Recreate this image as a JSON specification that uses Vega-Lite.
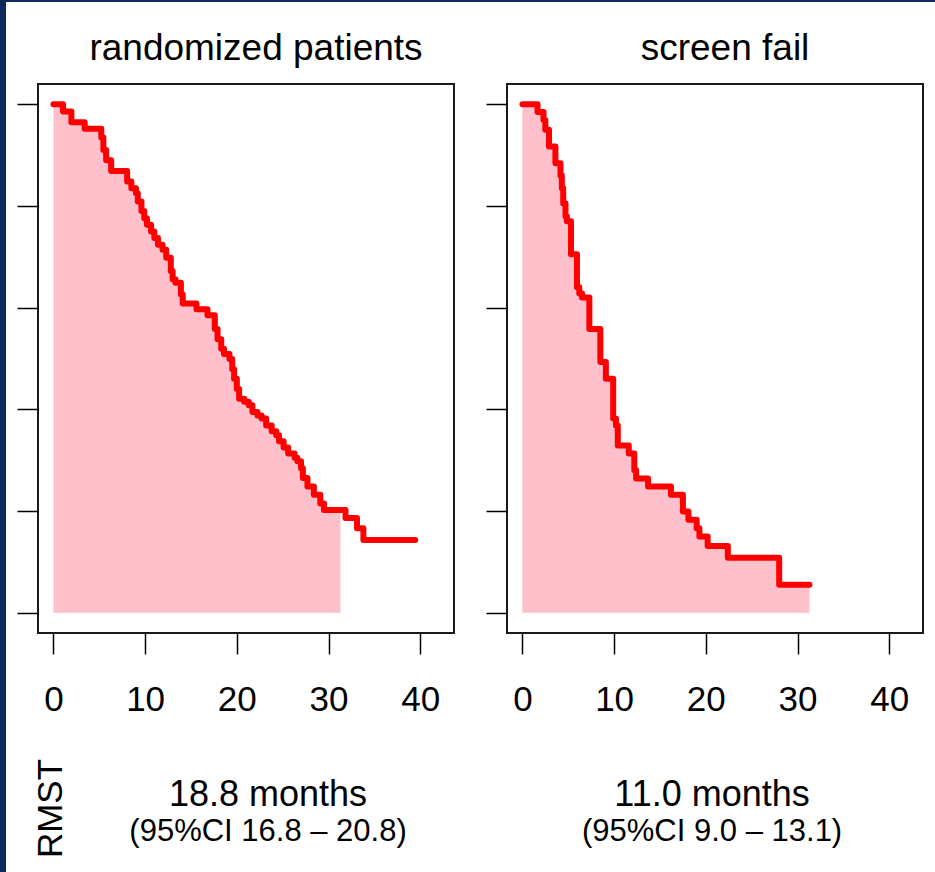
{
  "$schema": "https://vega.github.io/schema/vega-lite/v6.json",
  "padding": 0,
  "background": "white",
  "config": {
    "font": "Liberation Sans",
    "view": {"stroke": "#1a1a1a", "strokeWidth": 2},
    "axis": {"grid": false}
  },
  "datasets": {
    "km": [
      {"group": "randomized patients", "month": 0, "survival": 1.0},
      {"group": "randomized patients", "month": 1.05, "survival": 0.986},
      {"group": "randomized patients", "month": 1.96, "survival": 0.965},
      {"group": "randomized patients", "month": 3.41, "survival": 0.952},
      {"group": "randomized patients", "month": 5.22, "survival": 0.935},
      {"group": "randomized patients", "month": 5.45, "survival": 0.91},
      {"group": "randomized patients", "month": 5.75, "survival": 0.89},
      {"group": "randomized patients", "month": 6.3, "survival": 0.869},
      {"group": "randomized patients", "month": 8.04, "survival": 0.848},
      {"group": "randomized patients", "month": 8.5, "survival": 0.835},
      {"group": "randomized patients", "month": 9.0, "survival": 0.825},
      {"group": "randomized patients", "month": 9.2, "survival": 0.809},
      {"group": "randomized patients", "month": 9.6, "survival": 0.79},
      {"group": "randomized patients", "month": 9.9, "survival": 0.776},
      {"group": "randomized patients", "month": 10.2, "survival": 0.763},
      {"group": "randomized patients", "month": 10.65, "survival": 0.75},
      {"group": "randomized patients", "month": 11.0, "survival": 0.737},
      {"group": "randomized patients", "month": 11.4, "survival": 0.724},
      {"group": "randomized patients", "month": 11.9, "survival": 0.714},
      {"group": "randomized patients", "month": 12.3, "survival": 0.698},
      {"group": "randomized patients", "month": 12.8, "survival": 0.672},
      {"group": "randomized patients", "month": 13.0, "survival": 0.656},
      {"group": "randomized patients", "month": 13.3, "survival": 0.649},
      {"group": "randomized patients", "month": 13.9, "survival": 0.626},
      {"group": "randomized patients", "month": 14.1, "survival": 0.608},
      {"group": "randomized patients", "month": 15.6, "survival": 0.597},
      {"group": "randomized patients", "month": 16.8, "survival": 0.585},
      {"group": "randomized patients", "month": 17.6, "survival": 0.558},
      {"group": "randomized patients", "month": 17.9, "survival": 0.538},
      {"group": "randomized patients", "month": 18.3, "survival": 0.519},
      {"group": "randomized patients", "month": 18.6, "survival": 0.509},
      {"group": "randomized patients", "month": 19.2, "survival": 0.499},
      {"group": "randomized patients", "month": 19.5, "survival": 0.479},
      {"group": "randomized patients", "month": 19.7, "survival": 0.46},
      {"group": "randomized patients", "month": 20.0, "survival": 0.44},
      {"group": "randomized patients", "month": 20.25, "survival": 0.421},
      {"group": "randomized patients", "month": 20.8, "survival": 0.415},
      {"group": "randomized patients", "month": 21.3, "survival": 0.408},
      {"group": "randomized patients", "month": 21.7, "survival": 0.395},
      {"group": "randomized patients", "month": 22.25, "survival": 0.388},
      {"group": "randomized patients", "month": 22.7, "survival": 0.382},
      {"group": "randomized patients", "month": 23.2, "survival": 0.368},
      {"group": "randomized patients", "month": 23.8, "survival": 0.357},
      {"group": "randomized patients", "month": 24.3, "survival": 0.349},
      {"group": "randomized patients", "month": 24.6, "survival": 0.337},
      {"group": "randomized patients", "month": 25.1, "survival": 0.325},
      {"group": "randomized patients", "month": 25.6, "survival": 0.313},
      {"group": "randomized patients", "month": 26.3, "survival": 0.305},
      {"group": "randomized patients", "month": 26.6, "survival": 0.298},
      {"group": "randomized patients", "month": 27.0, "survival": 0.284},
      {"group": "randomized patients", "month": 27.2, "survival": 0.265},
      {"group": "randomized patients", "month": 27.7, "survival": 0.248},
      {"group": "randomized patients", "month": 28.4, "survival": 0.232},
      {"group": "randomized patients", "month": 29.1, "survival": 0.215},
      {"group": "randomized patients", "month": 29.5, "survival": 0.202},
      {"group": "randomized patients", "month": 31.3, "survival": 0.202},
      {"group": "randomized patients", "month": 31.85, "survival": 0.186},
      {"group": "randomized patients", "month": 33.1, "survival": 0.166},
      {"group": "randomized patients", "month": 33.8, "survival": 0.143},
      {"group": "randomized patients", "month": 39.45, "survival": 0.143},
      {"group": "screen fail", "month": 0, "survival": 1.0},
      {"group": "screen fail", "month": 1.65, "survival": 0.985},
      {"group": "screen fail", "month": 2.3, "survival": 0.969},
      {"group": "screen fail", "month": 2.5, "survival": 0.95},
      {"group": "screen fail", "month": 2.9, "survival": 0.917},
      {"group": "screen fail", "month": 3.6, "survival": 0.884},
      {"group": "screen fail", "month": 4.15, "survival": 0.86},
      {"group": "screen fail", "month": 4.3, "survival": 0.835},
      {"group": "screen fail", "month": 4.45, "survival": 0.805},
      {"group": "screen fail", "month": 4.7, "survival": 0.78},
      {"group": "screen fail", "month": 4.85, "survival": 0.77},
      {"group": "screen fail", "month": 5.3, "survival": 0.705},
      {"group": "screen fail", "month": 5.95, "survival": 0.64},
      {"group": "screen fail", "month": 6.2, "survival": 0.628},
      {"group": "screen fail", "month": 6.5, "survival": 0.62},
      {"group": "screen fail", "month": 7.3, "survival": 0.558},
      {"group": "screen fail", "month": 8.5, "survival": 0.493},
      {"group": "screen fail", "month": 9.1, "survival": 0.46},
      {"group": "screen fail", "month": 9.9, "survival": 0.382},
      {"group": "screen fail", "month": 10.2, "survival": 0.368},
      {"group": "screen fail", "month": 10.4, "survival": 0.329},
      {"group": "screen fail", "month": 11.6, "survival": 0.313},
      {"group": "screen fail", "month": 12.2, "survival": 0.28},
      {"group": "screen fail", "month": 12.4, "survival": 0.264},
      {"group": "screen fail", "month": 13.7, "survival": 0.248},
      {"group": "screen fail", "month": 16.2, "survival": 0.232},
      {"group": "screen fail", "month": 17.5, "survival": 0.199},
      {"group": "screen fail", "month": 18.1, "survival": 0.183},
      {"group": "screen fail", "month": 19.0, "survival": 0.166},
      {"group": "screen fail", "month": 19.3, "survival": 0.15},
      {"group": "screen fail", "month": 20.2, "survival": 0.131},
      {"group": "screen fail", "month": 22.4, "survival": 0.108},
      {"group": "screen fail", "month": 28.0, "survival": 0.055},
      {"group": "screen fail", "month": 31.3, "survival": 0.055}
    ],
    "rmst": [
      {"group": "randomized patients", "line": "main", "label": "18.8 months"},
      {"group": "randomized patients", "line": "ci", "label": "(95%CI 16.8 – 20.8)"},
      {"group": "screen fail", "line": "main", "label": "11.0 months"},
      {"group": "screen fail", "line": "ci", "label": "(95%CI 9.0 – 13.1)"}
    ]
  },
  "spacing": 0,
  "vconcat": [
    {
      "width": 935,
      "height": 2,
      "view": {"fill": "#0d2a5a", "stroke": null},
      "data": {"values": []},
      "mark": "point",
      "encoding": {}
    },
    {
      "spacing": 9,
      "hconcat": [
        {
          "width": 6,
          "height": 870,
          "view": {"fill": "#0d2a5a", "stroke": null},
          "data": {"values": []},
          "mark": "point",
          "encoding": {}
        },
        {
          "columns": 2,
          "spacing": {"row": 26, "column": 29},
          "resolve": {"scale": {"x": "independent", "y": "independent"}},
          "concat": [
            {
              "width": 416,
              "height": 1,
              "view": {"stroke": null},
              "data": {"values": []},
              "mark": "point",
              "encoding": {}
            },
            {
              "width": 416,
              "height": 1,
              "view": {"stroke": null},
              "data": {"values": []},
              "mark": "point",
              "encoding": {}
            },
            {
              "width": 416,
              "height": 549,
              "title": {"text": "randomized patients", "fontSize": 37, "fontWeight": "normal", "color": "#000000", "baseline": "alphabetic", "offset": -13, "anchor": "middle", "frame": "group", "dx": 10},
              "data": {"name": "km"},
              "transform": [{"filter": "datum.group === 'randomized patients'"}],
              "encoding": {
                "x": {"field": "month", "type": "quantitative", "scale": {"domain": [-1.68, 43.68], "nice": false, "zero": false},
                  "axis": {"values": [0, 10, 20, 30, 40], "title": null, "domain": false, "tickSize": 21, "tickWidth": 1.5, "tickColor": "#000000", "labelFontSize": 35, "labelColor": "#000000", "labelPadding": 56, "labelBaseline": "alphabetic", "labelFlush": false, "labelOverlap": false}},
                "y": {"field": "survival", "type": "quantitative", "scale": {"domain": [-0.04, 1.04], "nice": false, "zero": false},
                  "axis": {"values": [0, 0.2, 0.4, 0.6, 0.8, 1], "labels": false, "title": null, "domain": false, "tickSize": 21, "tickWidth": 1.5, "tickColor": "#000000"}}
              },
              "layer": [
                {"transform": [{"filter": "datum.month <= 31.3"}], "mark": {"type": "area", "interpolate": "step-after", "color": "#ffc0cb", "opacity": 1}, "encoding": {"y2": {"datum": 0}}},
                {"mark": {"type": "line", "interpolate": "step-after", "color": "#ff0000", "strokeWidth": 6, "strokeCap": "round", "strokeJoin": "round"}}
              ]
            },
            {
              "width": 416,
              "height": 549,
              "title": {"text": "screen fail", "fontSize": 37, "fontWeight": "normal", "color": "#000000", "baseline": "alphabetic", "offset": -13, "anchor": "middle", "frame": "group", "dx": 10},
              "data": {"name": "km"},
              "transform": [{"filter": "datum.group === 'screen fail'"}],
              "encoding": {
                "x": {"field": "month", "type": "quantitative", "scale": {"domain": [-1.68, 43.68], "nice": false, "zero": false},
                  "axis": {"values": [0, 10, 20, 30, 40], "title": null, "domain": false, "tickSize": 21, "tickWidth": 1.5, "tickColor": "#000000", "labelFontSize": 35, "labelColor": "#000000", "labelPadding": 56, "labelBaseline": "alphabetic", "labelFlush": false, "labelOverlap": false}},
                "y": {"field": "survival", "type": "quantitative", "scale": {"domain": [-0.04, 1.04], "nice": false, "zero": false},
                  "axis": {"values": [0, 0.2, 0.4, 0.6, 0.8, 1], "labels": false, "title": null, "domain": false, "tickSize": 21, "tickWidth": 1.5, "tickColor": "#000000"}}
              },
              "layer": [
                {"transform": [{"filter": "datum.month <= 31.3"}], "mark": {"type": "area", "interpolate": "step-after", "color": "#ffc0cb", "opacity": 1}, "encoding": {"y2": {"datum": 0}}},
                {"mark": {"type": "line", "interpolate": "step-after", "color": "#ff0000", "strokeWidth": 6, "strokeCap": "round", "strokeJoin": "round"}}
              ]
            },
            {
              "width": 416,
              "height": 97,
              "view": {"stroke": null},
              "data": {"name": "rmst"},
              "transform": [{"filter": "datum.group === 'randomized patients'"}],
              "encoding": {
                "x": {"field": "group", "type": "nominal", "scale": {"type": "point", "padding": 0, "align": 0.553}, "axis": null},
                "y": {"field": "line", "type": "nominal", "scale": {"type": "point", "domain": ["main", "ci"], "padding": 0.8857, "align": 1},
                  "axis": {"title": "RMST", "labels": false, "ticks": false, "domain": false, "titleFontSize": 35, "titleFontWeight": "normal", "titleColor": "#000000", "titleX": 23, "titleY": 64, "titleAlign": "center", "titleBaseline": "alphabetic"}},
                "text": {"field": "label"}
              },
              "layer": [
                {"transform": [{"filter": "datum.line === 'main'"}], "mark": {"type": "text", "fontSize": 36, "baseline": "alphabetic", "color": "#000000"}},
                {"transform": [{"filter": "datum.line === 'ci'"}], "mark": {"type": "text", "fontSize": 31, "baseline": "alphabetic", "color": "#000000"}}
              ]
            },
            {
              "width": 416,
              "height": 97,
              "view": {"stroke": null},
              "data": {"name": "rmst"},
              "transform": [{"filter": "datum.group === 'screen fail'"}],
              "encoding": {
                "x": {"field": "group", "type": "nominal", "scale": {"type": "point", "padding": 0, "align": 0.493}, "axis": null},
                "y": {"field": "line", "type": "nominal", "scale": {"type": "point", "domain": ["main", "ci"], "padding": 0.8857, "align": 1}, "axis": null},
                "text": {"field": "label"}
              },
              "layer": [
                {"transform": [{"filter": "datum.line === 'main'"}], "mark": {"type": "text", "fontSize": 36, "baseline": "alphabetic", "color": "#000000"}},
                {"transform": [{"filter": "datum.line === 'ci'"}], "mark": {"type": "text", "fontSize": 31, "baseline": "alphabetic", "color": "#000000"}}
              ]
            }
          ]
        }
      ]
    }
  ]
}
